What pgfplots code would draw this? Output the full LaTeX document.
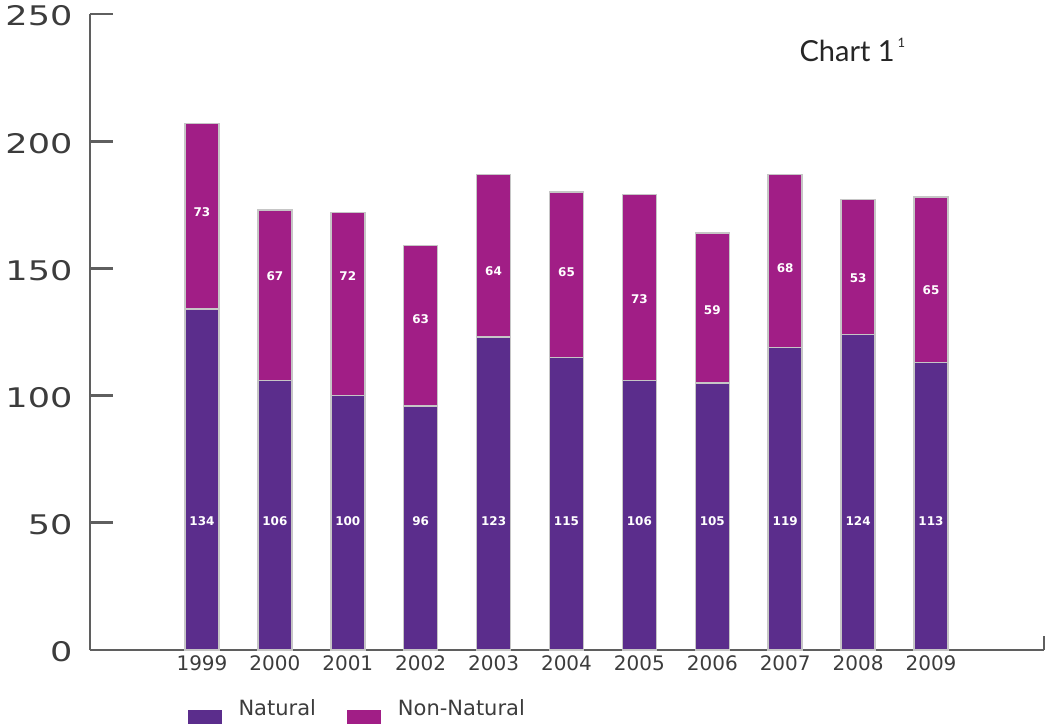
\documentclass[border=0pt]{standalone}
\usepackage{pgfplots}
\pgfplotsset{compat=1.18}
\usepackage{pgfplotstable}
\usepackage{fontspec}
\setmainfont{DejaVu Sans}
\newfontfamily\ylabfont[FakeStretch=1.3]{DejaVu Sans}
\newfontfamily\titlefont{Lato}
\definecolor{natural}{RGB}{91,45,140}
\definecolor{nonnatural}{RGB}{161,30,134}
\definecolor{axisgray}{RGB}{95,95,95}
\definecolor{textgray}{RGB}{60,60,60}

\pgfplotstableread{
x year natural nonnatural
0 1999 134 73
1 2000 106 67
2 2001 100 72
3 2002 96 63
4 2003 123 64
5 2004 115 65
6 2005 106 73
7 2006 105 59
8 2007 119 68
9 2008 124 53
10 2009 113 65
}\datatable

\pgfplotstableread{
x ly lab
0 50.5 134
1 50.5 106
2 50.5 100
3 50.5 96
4 50.5 123
5 50.5 115
6 50.5 106
7 50.5 105
8 50.5 119
9 50.5 124
10 50.5 113
0 172 73
1 147 67
2 147 72
3 130 63
4 149 64
5 148.6 65
6 138 73
7 133.6 59
8 150 68
9 146 53
10 141.5 65
}\labeltable

\begin{document}
\begin{tikzpicture}
\path[use as bounding box] (0,0) rectangle (1046pt,723pt);
\begin{axis}[
  at={(90pt,73pt)}, anchor=south west,
  scale only axis, width=954pt, height=636pt,
  ybar stacked, bar width=34pt,
  xmin=-1.536, xmax=11.55, ymin=0, ymax=250,
  axis x line=bottom, axis y line=left,
  axis line style={-, draw=axisgray, line width=2.8pt},
  xtick={0,...,10},
  xticklabels={1999,2000,2001,2002,2003,2004,2005,2006,2007,2008,2009},
  x tick style={draw=none},
  ytick={0,50,...,250},
  y tick style={draw=axisgray, line width=2.8pt},
  tick align=inside, major tick length=23pt,
  /pgf/number format/assume math mode=true,
  x tick label style={font=\fontsize{20}{24}\selectfont, text=textgray, yshift=-2pt},
  y tick label style={font=\ylabfont\fontsize{27}{30}\selectfont, text=textgray, xshift=-14pt, yshift=-2pt},
  legend columns=2,
  legend style={at={(0.102,-0.075)}, anchor=north west, draw=none, fill=none,
    font=\fontsize{21}{24}\selectfont, text=textgray, inner sep=0pt,
    /tikz/every odd column/.append style={column sep=15pt},
    /tikz/every even column/.append style={column sep=29pt}},
  legend image code/.code={\path[#1, draw=none] (0pt,-1pt) rectangle (34pt,-33pt);},
  clip=false,
]
\addplot[fill=natural, draw=gray!45, line width=1.5pt] table[x=x, y=natural] {\datatable};
\addplot[fill=nonnatural, draw=gray!45, line width=1.5pt] table[x=x, y=nonnatural] {\datatable};
\legend{Natural, Non-Natural}
\draw[axisgray, line width=2.8pt] (rel axis cs:1,0) -- ++(0pt,14pt);
\end{axis}
\begin{axis}[
  at={(90pt,73pt)}, anchor=south west,
  scale only axis, width=954pt, height=636pt,
  xmin=-1.536, xmax=11.55, ymin=0, ymax=250,
  hide axis, clip=false,
]
\addplot[draw=none, mark=none, nodes near coords, point meta=explicit symbolic,
  nodes near coords style={anchor=center, text=white, font=\bfseries\fontsize{12}{12}\selectfont}]
  table[x=x, y=ly, meta=lab] {\labeltable};
\end{axis}
\node[anchor=base west, font=\titlefont\fontsize{29}{32}\selectfont, text=black!85] at (796pt,661pt) {Chart 1\hspace{3pt}\raisebox{0.5em}{\fontsize{13}{13}\selectfont 1}};
\end{tikzpicture}
\end{document}
